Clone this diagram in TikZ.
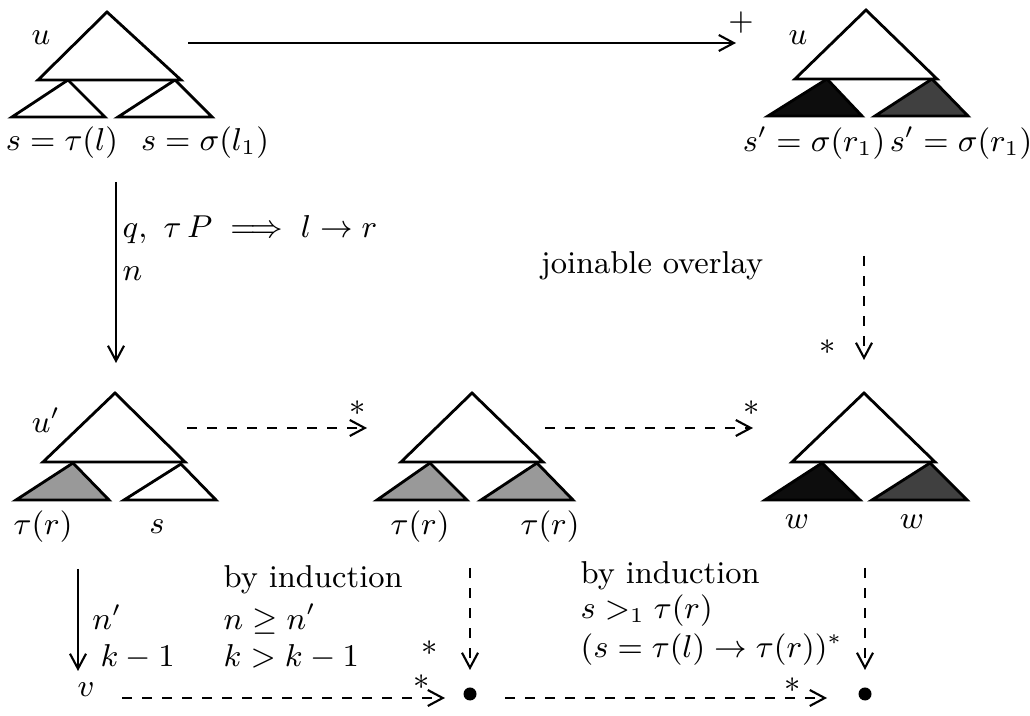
\documentclass[tikz,border=0pt]{standalone}
\usepackage{amsmath,amssymb}
\usetikzlibrary{arrows.meta}
\begin{document}
\begin{tikzpicture}[x=0.01cm,y=-0.01cm,
  tri/.style={draw=black, line width=0.8pt, line join=miter, fill=white},
  lightfill/.style={tri, fill=black!40},
  darkfill/.style={tri, fill=black!75},
  blackfill/.style={tri, fill=black!95},
  solidarr/.style={line width=0.6pt, -{Straight Barb[length=1.5mm,width=1.6mm,line width=0.6pt]}},
  dasharr/.style={solidarr, dash pattern=on 1mm off 1mm},
  lab/.style={inner sep=0pt, font=\fontsize{9}{11}\selectfont},
  smalllab/.style={inner sep=0pt, font=\fontsize{8.6}{10.5}\selectfont},
  dot/.style={circle, fill=black, inner sep=0pt, minimum size=1.3mm}]
\useasboundingbox (0,0) rectangle (1030,716);

% ---------- top-left tree
\draw[tri] (68,80) -- (105,117) -- (12,117) -- cycle;
\draw[tri] (175,80) -- (212,117) -- (118,117) -- cycle;
\draw[tri] (107,12) -- (181,80) -- (38,80) -- cycle;
\node[lab] (uA) at (41,38) {$u$};
\node[lab] (lA1) at (62,143) {$s=\tau(l)$};
\node[lab] (lA2) at (205,143) {$s=\sigma(l_1)$};

% ---------- top-right tree
\draw[blackfill] (827,79) -- (862,116) -- (768,116) -- cycle;
\draw[darkfill] (932,79) -- (968,116) -- (875,116) -- cycle;
\draw[tri] (866,10) -- (937,79) -- (795,79) -- cycle;
\node[lab] (uB) at (798,38) {$u$};
\node[smalllab] (lB1) at (814,143) {$s'=\sigma(r_1)$};
\node[smalllab] (lB2) at (961,143) {$s'=\sigma(r_1)$};

% ---------- middle-left tree
\draw[lightfill] (73,463) -- (109,500) -- (16,500) -- cycle;
\draw[tri] (181,464) -- (216,500) -- (124,500) -- cycle;
\draw[tri] (115,393) -- (185,462) -- (43,462) -- cycle;
\node[lab] (uC) at (46,420) {$u'$};
\node[lab] (lC1) at (43,527) {$\tau(r)$};
\node[lab] (lC2) at (157,527) {$s$};

% ---------- middle tree
\draw[lightfill] (430,463) -- (467,500) -- (377,500) -- cycle;
\draw[lightfill] (537,463) -- (573,500) -- (481,500) -- cycle;
\draw[tri] (472,393) -- (543,462) -- (401,462) -- cycle;
\node[lab] (lD1) at (420,527) {$\tau(r)$};
\node[lab] (lD2) at (550,527) {$\tau(r)$};

% ---------- middle-right tree
\draw[blackfill] (822,463) -- (860,500) -- (765,500) -- cycle;
\draw[darkfill] (930,463) -- (967,500) -- (872,500) -- cycle;
\draw[tri] (864,393) -- (935,462) -- (792,462) -- cycle;
\node[lab] (lE1) at (797,522) {$w$};
\node[lab] (lE2) at (912,522) {$w$};

% ---------- arrow end points
\coordinate (a1s) at (188,43);   \coordinate (a1e) at (736,43);
\coordinate (a2s) at (116,182);  \coordinate (a2e) at (116,363);
\coordinate (a3s) at (864,256);  \coordinate (a3e) at (864,360);
\coordinate (a4s) at (187,428);  \coordinate (a4e) at (367,428);
\coordinate (a5s) at (545,428);  \coordinate (a5e) at (753,428);
\coordinate (a6s) at (78,569);   \coordinate (a6e) at (78,671);
\node[dot] (d1) at (470,694) {};
\node[dot] (d2) at (865,694) {};
\coordinate (a7s) at (470,568);  \coordinate (a7e) at (470,670);
\coordinate (a8s) at (865,568);  \coordinate (a8e) at (865,670);
\coordinate (a9s) at (122,698);  \coordinate (a9e) at (445,698);
\coordinate (a10s) at (505,698); \coordinate (a10e) at (827,698);

\draw[solidarr] (a1s) -- (a1e);
\draw[solidarr] (a2s) -- (a2e);
\draw[dasharr] (a3s) -- (a3e);
\draw[dasharr] (a4s) -- (a4e);
\draw[dasharr] (a5s) -- (a5e);
\draw[solidarr] (a6s) -- (a6e);
\draw[dasharr] (a7s) -- (a7e);
\draw[dasharr] (a8s) -- (a8e);
\draw[dasharr] (a9s) -- (a9e);
\draw[dasharr] (a10s) -- (a10e);

% ---------- arrow labels
\node[lab] (plus) at (741,23) {$+$};
\node[lab, anchor=west] (q) at (122,230) {$q,\ \tau\, P\implies l\to r$};
\node[lab, anchor=west] (n) at (122,274) {$n$};
\node[lab] (jo) at (652,266) {joinable overlay};
\node[lab] (st1) at (828,347) {$*$};
\node[lab] (st2) at (358,408) {$*$};
\node[lab] (st3) at (752,408) {$*$};

\node[lab] (np) at (107,617) {$n'$};
\node[lab, anchor=west] (km) at (100,657) {$k-1$};
\node[lab] (v) at (86,690) {$v$};
\node[lab, anchor=west] (bi1) at (223,580) {by induction};
\node[lab, anchor=west] (ng) at (223,619) {$n\geq n'$};
\node[lab, anchor=west] (kg) at (223,657) {$k>k-1$};
\node[lab] (st4) at (430,648) {$*$};
\node[lab] (st5) at (422,682) {$*$};

\node[lab, anchor=west] (bi2) at (580,576) {by induction};
\node[lab, anchor=west] (sg) at (580,611) {$s>_1\tau(r)$};
\node[lab, anchor=west] (sc) at (580,650) {$(s=\tau(l)\to\tau(r))^*$};
\node[lab] (st6) at (793,685) {$*$};
\end{tikzpicture}
\end{document}
